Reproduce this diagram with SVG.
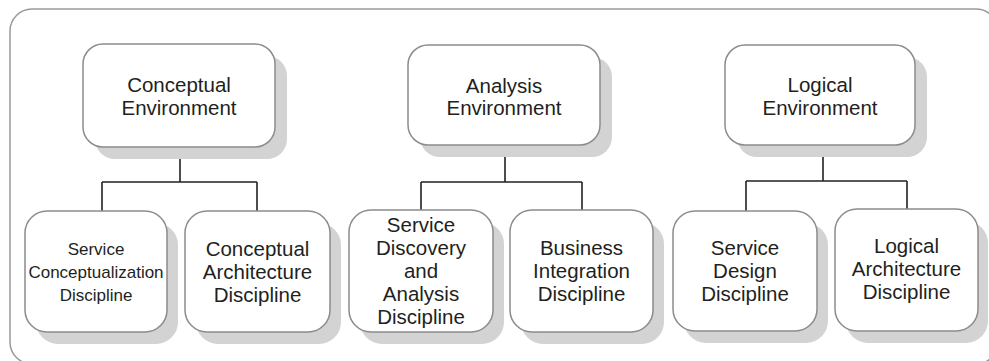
<svg xmlns="http://www.w3.org/2000/svg" width="989" height="361" viewBox="0 0 989 361">
<style>
.frame{fill:none;stroke:#9a9a9a;stroke-width:1.5}
.shadow{fill:#d3d3d3}
.box{fill:#fff;stroke:#8c8c8c;stroke-width:1.5}
.conn{fill:none;stroke:#222;stroke-width:1.6}
text{font-family:"Liberation Sans",Arial,sans-serif;fill:#231f20;text-anchor:middle}
.t{font-size:20.5px}
.s{font-size:17px}
</style>
<rect width="989" height="361" fill="#fff"/>
<rect class="frame" x="10" y="9" width="988" height="355" rx="22"/>
<g id="connectors">
<path class="conn" d="M180 147V182M102 182H257M102 182V211M257 182V211"/>
<path class="conn" d="M505 145V182M421 182H582M421 182V210M582 182V210"/>
<path class="conn" d="M823 145V181M746 181H907M746 181V211M907 181V209"/>
</g>
<g id="conceptual-env">
<rect class="shadow" x="95" y="56" width="192" height="103" rx="20"/>
<rect class="box" x="83" y="44" width="192" height="103" rx="20"/>
<text class="t" x="179" y="92">Conceptual</text>
<text class="t" x="179" y="115">Environment</text>
</g>
<g id="analysis-env">
<rect class="shadow" x="420" y="57" width="192" height="100" rx="20"/>
<rect class="box" x="408" y="45" width="192" height="100" rx="20"/>
<text class="t" x="504" y="93">Analysis</text>
<text class="t" x="504" y="115">Environment</text>
</g>
<g id="logical-env">
<rect class="shadow" x="737" y="57" width="190" height="100" rx="20"/>
<rect class="box" x="725" y="45" width="190" height="100" rx="20"/>
<text class="t" x="820" y="92">Logical</text>
<text class="t" x="820" y="115">Environment</text>
</g>
<g id="service-conceptualization">
<rect class="shadow" x="36" y="223" width="142" height="121" rx="22"/>
<rect class="box" x="25" y="211" width="142" height="121" rx="22"/>
<text class="s" x="96" y="255">Service</text>
<text class="s" x="96" y="278">Conceptualization</text>
<text class="s" x="96" y="301">Discipline</text>
</g>
<g id="conceptual-architecture">
<rect class="shadow" x="196" y="223" width="145" height="121" rx="22"/>
<rect class="box" x="185" y="211" width="145" height="121" rx="22"/>
<text class="t" x="257.5" y="256">Conceptual</text>
<text class="t" x="257.5" y="279">Architecture</text>
<text class="t" x="257.5" y="302">Discipline</text>
</g>
<g id="service-discovery">
<rect class="shadow" x="360" y="222" width="144" height="122" rx="22"/>
<rect class="box" x="349" y="210" width="144" height="122" rx="22"/>
<text class="t" x="421" y="232">Service</text>
<text class="t" x="421" y="255">Discovery</text>
<text class="t" x="421" y="278">and</text>
<text class="t" x="421" y="301">Analysis</text>
<text class="t" x="421" y="324">Discipline</text>
</g>
<g id="business-integration">
<rect class="shadow" x="521" y="222" width="143" height="122" rx="22"/>
<rect class="box" x="510" y="210" width="143" height="122" rx="22"/>
<text class="t" x="581.5" y="255">Business</text>
<text class="t" x="581.5" y="278">Integration</text>
<text class="t" x="581.5" y="301">Discipline</text>
</g>
<g id="service-design">
<rect class="shadow" x="684" y="223" width="144" height="120" rx="22"/>
<rect class="box" x="673" y="211" width="144" height="120" rx="22"/>
<text class="t" x="745" y="255">Service</text>
<text class="t" x="745" y="278">Design</text>
<text class="t" x="745" y="301">Discipline</text>
</g>
<g id="logical-architecture">
<rect class="shadow" x="846" y="221" width="142" height="122" rx="22"/>
<rect class="box" x="835" y="209" width="143" height="122" rx="22"/>
<text class="t" x="906.5" y="253">Logical</text>
<text class="t" x="906.5" y="276">Architecture</text>
<text class="t" x="906.5" y="299">Discipline</text>
</g>
</svg>
